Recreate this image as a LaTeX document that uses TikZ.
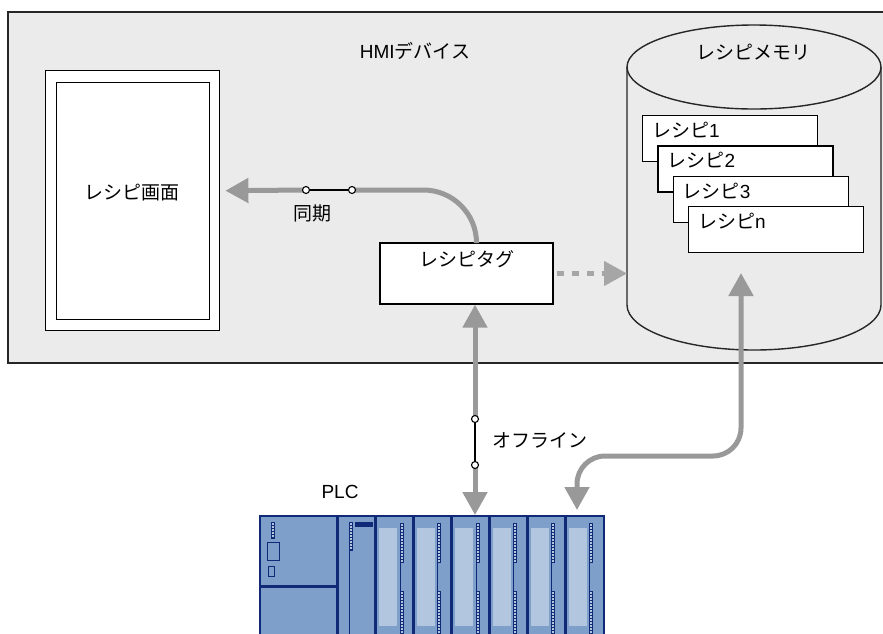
\documentclass[tikz,border=0pt]{standalone}
\usepackage{fontspec}
\setmainfont{Liberation Sans}
\newfontfamily\jp{Noto Sans CJK JP}
\usetikzlibrary{arrows.meta,positioning}

\definecolor{hmibg}{HTML}{EBEBEB}
\definecolor{linkgrey}{HTML}{999999}
\definecolor{dotgrey}{HTML}{A6A6A6}
\definecolor{rackblue}{HTML}{7F9FCB}
\definecolor{rackdark}{HTML}{102A78}
\definecolor{racklight}{HTML}{B3C6E0}

\tikzset{
  outline/.style={draw=black!85, line width=1.4pt},
  box/.style={draw=black, fill=white, line width=1.4pt, inner sep=0pt},
  card/.style={box, anchor=north west, minimum width=175, minimum height=46},
  cardtext/.style={anchor=north west, inner sep=0pt, xshift=10pt, yshift=-7pt},
  tagtext/.style={anchor=north, inner sep=0pt, yshift=-8pt},
  link/.style={draw=linkgrey, line width=5pt},
  arrowend/.style={-{Triangle[length=23pt,width=24pt]}},
  bothends/.style={{Triangle[length=23pt,width=24pt]}-{Triangle[length=23pt,width=24pt]}},
  dotlink/.style={draw=dotgrey, line width=4.5pt, dash pattern=on 7pt off 8pt,
    -{Triangle[length=23pt,width=24pt]}},
  switchline/.style={draw=black, line width=1.2pt},
  contact/.style={circle, draw=black, fill=white, line width=1.1pt, inner sep=0pt, minimum size=7pt},
  ledstrip/.style={draw=rackdark, fill=racklight, line width=0.5pt},
  ledticks/.style={draw=rackdark, line width=3.5pt, dash pattern=on 0.7pt off 2.3pt},
  rackline/.style={draw=rackdark, line width=2.6pt}
}

\begin{document}
\begin{tikzpicture}[x=1pt, y=-1pt, font=\fontsize{19}{22}\selectfont]
  \clip (0,0) rectangle (883,633);

  % HMI device panel, open towards the right
  \fill[hmibg] (8,12) rectangle (900,363);
  \draw[outline] (900,12) -- (8,12) -- (8,363) -- (900,363);
  \node (hmi) at (415,51) {HMI\jp デバイス};

  % recipe screen
  \node[box, minimum width=174, minimum height=260, anchor=north west] (screen) at (45,70) {};
  \node[box, minimum width=153, minimum height=237] (screenin) at (screen.center) {};
  \node (screentext) at (132,193) {\jp レシピ画面};

  % recipe tag
  \node[box, minimum width=173, minimum height=61, label={[tagtext]north:{\jp レシピタグ}}] (tag) at (466.5,273.5) {};

  % recipe memory cylinder
  \draw[outline] (627,67) -- (627,305)
    arc[start angle=180, end angle=360, x radius=127pt, y radius=45pt] -- (881,67);
  \draw[outline] (754,67) ellipse [x radius=127pt, y radius=42pt];
  \node (memtext) at (753,52) {\jp レシピメモリ};
  \coordinate (memleft) at (627,272);
  \coordinate (memin) at (741,273);

  % stacked recipes
  \foreach \n/\t in {0/1,1/2,2/3,3/n}
    \node[card, label={[cardtext]north west:{\jp レシピ}\t}] (rec\t) at (642+15.3*\n,115+30.3*\n) {};

  % synchronisation between tag and screen
  \coordinate (s1) at (306,190);
  \coordinate (s2) at (352,190);
  \draw[link, rounded corners=53] ([xshift=10pt]tag.north) |- (s2);
  \draw[link, arrowend] (s1) -- ([xshift=5pt,yshift=10pt]screen.east);
  \draw[switchline] (s1) -- (s2);
  \node[contact] (c1) at (s1) {};
  \node[contact] (c2) at (s2) {};
  \node (synctext) at (312,213) {\jp 同期};

  % tag to memory
  \draw[dotlink] ([xshift=3pt]tag.east) -- (tag.east -| memleft);

  % PLC rack
  \coordinate (plc) at (260,516);
  \node (plclabel) at (340,492) {PLC};
  \fill[rackblue] (plc) rectangle (604,640);
  % power supply
  \draw[ledstrip] (271,522) rectangle (274.3,538);
  \draw[ledticks] (272.65,522) -- (272.65,538);
  \draw[draw=rackdark, line width=0.8pt] (267,542) rectangle (279,560);
  \draw[draw=rackdark, line width=0.8pt] (268,566) rectangle (274,576);
  % CPU
  \draw[draw=rackdark, line width=0.8pt] (349.3,550) -- (349.3,640);
  \draw[ledstrip] (349.3,522) rectangle (352.7,550);
  \draw[ledticks] (351,522) -- (351,550);
  \fill[rackdark] (355,522) rectangle (373,526.7);
  % signal modules
  \foreach \x in {375.7,413.3,451.7,489.3,527.3,565.3} {
    \fill[racklight] (\x+3.6,528) rectangle (\x+21.6,626);
    \draw[draw=rackdark, line width=0.8pt] (\x+24.3,523) -- (\x+24.3,640);
    \draw[ledstrip] (\x+24.3,523) rectangle (\x+27.3,562);
    \draw[ledticks] (\x+25.8,523) -- (\x+25.8,562);
    \draw[ledstrip] (\x+24.3,591) rectangle (\x+27.3,640);
    \draw[ledticks] (\x+25.8,591) -- (\x+25.8,640);
  }
  \foreach \x in {337.3,375.7,413.3,451.7,489.3,527.3,565.3}
    \draw[rackline] (\x,516) -- (\x,640);
  \draw[rackline] (260,586.5) -- (337.3,586.5);
  \draw[rackline] (260,640) -- (plc) -- (604,516) -- (604,640);

  % offline link between tag and PLC
  \coordinate (s3) at (475,419);
  \coordinate (s4) at (475,465);
  \draw[link, arrowend] (s3) -- (s3 |- tag.south);
  \draw[link, arrowend] (s4) -- (475,515);
  \draw[switchline] (s3) -- (s4);
  \node[contact] (c3) at (s3) {};
  \node[contact] (c4) at (s4) {};
  \node[anchor=west] (offtext) at (489,440) {\jp オフライン};

  % PLC to recipe memory
  \coordinate (plcin) at (577,510);
  \draw[link, bothends, rounded corners=28] (plcin) |- (741,456) -- (memin);
\end{tikzpicture}
\end{document}
